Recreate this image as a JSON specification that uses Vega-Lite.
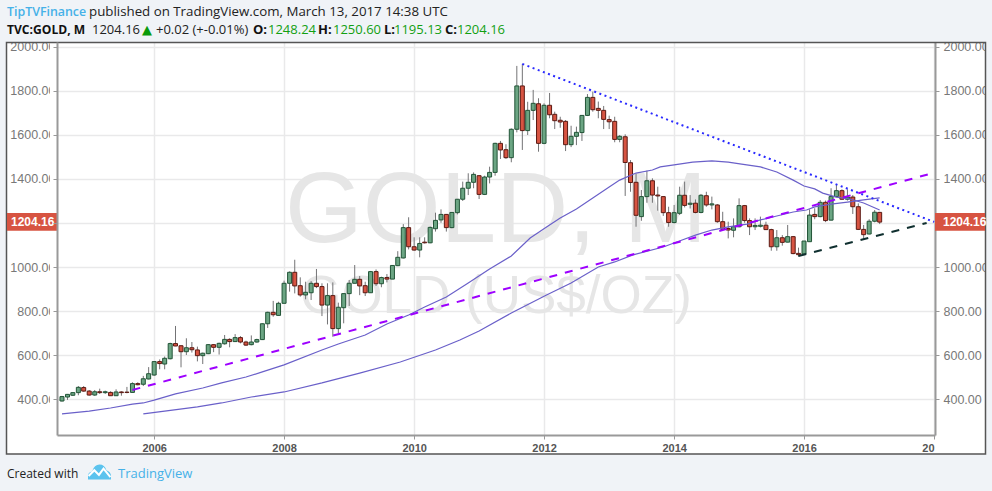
{
  "$schema": "https://vega.github.io/schema/vega-lite/v6.json",
  "width": 878,
  "height": 393,
  "autosize": {"type": "none"},
  "padding": {"left": 57, "top": 42, "right": 57, "bottom": 56},
  "background": "#ffffff",
  "config": {
    "view": {"stroke": null},
    "text": {"font": "Open Sans", "fontSize": 13, "align": "left", "baseline": "alphabetic"}
  },
  "datasets": {
    "candles": [
      {"d":"2004-08-01","o":391,"h":414,"l":388,"c":411},
      {"d":"2004-09-01","o":409,"h":423,"l":396,"c":421},
      {"d":"2004-10-01","o":417,"h":430,"l":414,"c":429},
      {"d":"2004-11-01","o":429,"h":459,"l":417,"c":453},
      {"d":"2004-12-01","o":452,"h":459,"l":433,"c":436},
      {"d":"2005-01-01","o":436,"h":441,"l":415,"c":418},
      {"d":"2005-02-01","o":418,"h":441,"l":414,"c":433},
      {"d":"2005-03-01","o":433,"h":447,"l":423,"c":429},
      {"d":"2005-04-01","o":429,"h":438,"l":423,"c":433},
      {"d":"2005-05-01","o":430,"h":435,"l":414,"c":415},
      {"d":"2005-06-01","o":415,"h":444,"l":414,"c":432},
      {"d":"2005-07-01","o":432,"h":435,"l":415,"c":429},
      {"d":"2005-08-01","o":431,"h":455,"l":426,"c":430},
      {"d":"2005-09-01","o":430,"h":476,"l":430,"c":470},
      {"d":"2005-10-01","o":470,"h":476,"l":462,"c":465},
      {"d":"2005-11-01","o":467,"h":505,"l":459,"c":492},
      {"d":"2005-12-01","o":491,"h":545,"l":489,"c":515},
      {"d":"2006-01-01","o":509,"h":570,"l":505,"c":570},
      {"d":"2006-02-01","o":570,"h":580,"l":535,"c":561},
      {"d":"2006-03-01","o":559,"h":593,"l":535,"c":585},
      {"d":"2006-04-01","o":583,"h":656,"l":580,"c":652},
      {"d":"2006-05-01","o":652,"h":732,"l":640,"c":641},
      {"d":"2006-06-01","o":642,"h":645,"l":544,"c":615},
      {"d":"2006-07-01","o":615,"h":676,"l":600,"c":633},
      {"d":"2006-08-01","o":633,"h":659,"l":611,"c":624},
      {"d":"2006-09-01","o":623,"h":638,"l":571,"c":597},
      {"d":"2006-10-01","o":597,"h":611,"l":559,"c":608},
      {"d":"2006-11-01","o":606,"h":650,"l":604,"c":647},
      {"d":"2006-12-01","o":647,"h":650,"l":613,"c":635},
      {"d":"2007-01-01","o":635,"h":656,"l":602,"c":653},
      {"d":"2007-02-01","o":651,"h":691,"l":647,"c":671},
      {"d":"2007-03-01","o":671,"h":676,"l":635,"c":661},
      {"d":"2007-04-01","o":661,"h":695,"l":659,"c":679},
      {"d":"2007-05-01","o":679,"h":686,"l":653,"c":659},
      {"d":"2007-06-01","o":659,"h":665,"l":641,"c":645},
      {"d":"2007-07-01","o":647,"h":689,"l":644,"c":659},
      {"d":"2007-08-01","o":659,"h":674,"l":656,"c":670},
      {"d":"2007-09-01","o":670,"h":744,"l":668,"c":742},
      {"d":"2007-10-01","o":742,"h":797,"l":723,"c":794},
      {"d":"2007-11-01","o":794,"h":846,"l":774,"c":783},
      {"d":"2007-12-01","o":780,"h":842,"l":779,"c":835},
      {"d":"2008-01-01","o":835,"h":938,"l":835,"c":926},
      {"d":"2008-02-01","o":926,"h":980,"l":888,"c":976},
      {"d":"2008-03-01","o":976,"h":1033,"l":880,"c":914},
      {"d":"2008-04-01","o":915,"h":953,"l":865,"c":873},
      {"d":"2008-05-01","o":873,"h":933,"l":853,"c":885},
      {"d":"2008-06-01","o":883,"h":936,"l":850,"c":926},
      {"d":"2008-07-01","o":926,"h":991,"l":904,"c":911},
      {"d":"2008-08-01","o":911,"h":926,"l":777,"c":827},
      {"d":"2008-09-01","o":827,"h":926,"l":739,"c":870},
      {"d":"2008-10-01","o":870,"h":930,"l":683,"c":720},
      {"d":"2008-11-01","o":720,"h":838,"l":698,"c":817},
      {"d":"2008-12-01","o":815,"h":880,"l":744,"c":879},
      {"d":"2009-01-01","o":879,"h":941,"l":823,"c":926},
      {"d":"2009-02-01","o":926,"h":1009,"l":926,"c":944},
      {"d":"2009-03-01","o":944,"h":959,"l":872,"c":914},
      {"d":"2009-04-01","o":915,"h":933,"l":868,"c":883},
      {"d":"2009-05-01","o":883,"h":982,"l":883,"c":979},
      {"d":"2009-06-01","o":979,"h":989,"l":914,"c":924},
      {"d":"2009-07-01","o":924,"h":956,"l":908,"c":952},
      {"d":"2009-08-01","o":952,"h":968,"l":930,"c":945},
      {"d":"2009-09-01","o":945,"h":1009,"l":945,"c":1007},
      {"d":"2009-10-01","o":1006,"h":1072,"l":1004,"c":1044},
      {"d":"2009-11-01","o":1041,"h":1195,"l":1039,"c":1179},
      {"d":"2009-12-01","o":1179,"h":1226,"l":1080,"c":1092},
      {"d":"2010-01-01","o":1092,"h":1135,"l":1074,"c":1077},
      {"d":"2010-02-01","o":1077,"h":1135,"l":1044,"c":1107},
      {"d":"2010-03-01","o":1113,"h":1135,"l":1107,"c":1110},
      {"d":"2010-04-01","o":1110,"h":1184,"l":1108,"c":1180},
      {"d":"2010-05-01","o":1174,"h":1247,"l":1161,"c":1212},
      {"d":"2010-06-01","o":1214,"h":1262,"l":1201,"c":1239},
      {"d":"2010-07-01","o":1239,"h":1241,"l":1161,"c":1179},
      {"d":"2010-08-01","o":1179,"h":1248,"l":1176,"c":1248},
      {"d":"2010-09-01","o":1247,"h":1309,"l":1239,"c":1308},
      {"d":"2010-10-01","o":1308,"h":1388,"l":1300,"c":1358},
      {"d":"2010-11-01","o":1358,"h":1426,"l":1327,"c":1385},
      {"d":"2010-12-01","o":1385,"h":1430,"l":1358,"c":1421},
      {"d":"2011-01-01","o":1415,"h":1418,"l":1309,"c":1330},
      {"d":"2011-02-01","o":1330,"h":1415,"l":1327,"c":1409},
      {"d":"2011-03-01","o":1409,"h":1456,"l":1380,"c":1430},
      {"d":"2011-04-01","o":1430,"h":1565,"l":1415,"c":1562},
      {"d":"2011-05-01","o":1562,"h":1573,"l":1491,"c":1532},
      {"d":"2011-06-01","o":1533,"h":1558,"l":1491,"c":1497},
      {"d":"2011-07-01","o":1497,"h":1630,"l":1476,"c":1626},
      {"d":"2011-08-01","o":1626,"h":1914,"l":1612,"c":1823},
      {"d":"2011-09-01","o":1823,"h":1923,"l":1532,"c":1620},
      {"d":"2011-10-01","o":1620,"h":1751,"l":1600,"c":1712},
      {"d":"2011-11-01","o":1712,"h":1805,"l":1668,"c":1744},
      {"d":"2011-12-01","o":1742,"h":1767,"l":1524,"c":1562},
      {"d":"2012-01-01","o":1562,"h":1744,"l":1558,"c":1735},
      {"d":"2012-02-01","o":1735,"h":1791,"l":1676,"c":1692},
      {"d":"2012-03-01","o":1694,"h":1706,"l":1627,"c":1665},
      {"d":"2012-04-01","o":1667,"h":1683,"l":1633,"c":1659},
      {"d":"2012-05-01","o":1662,"h":1668,"l":1527,"c":1556},
      {"d":"2012-06-01","o":1556,"h":1642,"l":1545,"c":1594},
      {"d":"2012-07-01","o":1594,"h":1638,"l":1554,"c":1612},
      {"d":"2012-08-01","o":1611,"h":1691,"l":1573,"c":1689},
      {"d":"2012-09-01","o":1689,"h":1786,"l":1686,"c":1771},
      {"d":"2012-10-01","o":1771,"h":1797,"l":1706,"c":1715},
      {"d":"2012-11-01","o":1721,"h":1752,"l":1676,"c":1712},
      {"d":"2012-12-01","o":1712,"h":1732,"l":1627,"c":1671},
      {"d":"2013-01-01","o":1670,"h":1688,"l":1627,"c":1660},
      {"d":"2013-02-01","o":1662,"h":1683,"l":1567,"c":1580},
      {"d":"2013-03-01","o":1580,"h":1600,"l":1567,"c":1594},
      {"d":"2013-04-01","o":1592,"h":1603,"l":1323,"c":1475},
      {"d":"2013-05-01","o":1474,"h":1486,"l":1342,"c":1384},
      {"d":"2013-06-01","o":1385,"h":1423,"l":1183,"c":1235},
      {"d":"2013-07-01","o":1229,"h":1350,"l":1210,"c":1320},
      {"d":"2013-08-01","o":1320,"h":1438,"l":1292,"c":1392},
      {"d":"2013-09-01","o":1392,"h":1403,"l":1292,"c":1327},
      {"d":"2013-10-01","o":1327,"h":1365,"l":1256,"c":1323},
      {"d":"2013-11-01","o":1320,"h":1320,"l":1232,"c":1247},
      {"d":"2013-12-01","o":1247,"h":1274,"l":1183,"c":1202},
      {"d":"2014-01-01","o":1202,"h":1282,"l":1198,"c":1247},
      {"d":"2014-02-01","o":1244,"h":1365,"l":1236,"c":1326},
      {"d":"2014-03-01","o":1326,"h":1388,"l":1271,"c":1280},
      {"d":"2014-04-01","o":1285,"h":1327,"l":1266,"c":1290},
      {"d":"2014-05-01","o":1290,"h":1307,"l":1244,"c":1248},
      {"d":"2014-06-01","o":1248,"h":1332,"l":1244,"c":1326},
      {"d":"2014-07-01","o":1324,"h":1342,"l":1274,"c":1282},
      {"d":"2014-08-01","o":1282,"h":1320,"l":1262,"c":1287},
      {"d":"2014-09-01","o":1282,"h":1286,"l":1201,"c":1206},
      {"d":"2014-10-01","o":1206,"h":1251,"l":1168,"c":1171},
      {"d":"2014-11-01","o":1175,"h":1206,"l":1130,"c":1168},
      {"d":"2014-12-01","o":1167,"h":1221,"l":1135,"c":1183},
      {"d":"2015-01-01","o":1183,"h":1312,"l":1180,"c":1279},
      {"d":"2015-02-01","o":1279,"h":1282,"l":1201,"c":1211},
      {"d":"2015-03-01","o":1211,"h":1221,"l":1145,"c":1183},
      {"d":"2015-04-01","o":1183,"h":1221,"l":1168,"c":1189},
      {"d":"2015-05-01","o":1185,"h":1229,"l":1180,"c":1190},
      {"d":"2015-06-01","o":1190,"h":1206,"l":1168,"c":1170},
      {"d":"2015-07-01","o":1170,"h":1174,"l":1074,"c":1092},
      {"d":"2015-08-01","o":1092,"h":1168,"l":1074,"c":1133},
      {"d":"2015-09-01","o":1133,"h":1145,"l":1097,"c":1112},
      {"d":"2015-10-01","o":1113,"h":1191,"l":1112,"c":1138},
      {"d":"2015-11-01","o":1138,"h":1141,"l":1058,"c":1061},
      {"d":"2015-12-01","o":1062,"h":1088,"l":1047,"c":1056},
      {"d":"2016-01-01","o":1059,"h":1118,"l":1054,"c":1118},
      {"d":"2016-02-01","o":1115,"h":1262,"l":1115,"c":1236},
      {"d":"2016-03-01","o":1239,"h":1267,"l":1217,"c":1229},
      {"d":"2016-04-01","o":1229,"h":1304,"l":1226,"c":1294},
      {"d":"2016-05-01","o":1294,"h":1302,"l":1204,"c":1211},
      {"d":"2016-06-01","o":1213,"h":1358,"l":1211,"c":1320},
      {"d":"2016-07-01","o":1320,"h":1373,"l":1317,"c":1347},
      {"d":"2016-08-01","o":1347,"h":1353,"l":1305,"c":1308},
      {"d":"2016-09-01","o":1308,"h":1353,"l":1302,"c":1318},
      {"d":"2016-10-01","o":1318,"h":1327,"l":1241,"c":1274},
      {"d":"2016-11-01","o":1274,"h":1289,"l":1168,"c":1171},
      {"d":"2016-12-01","o":1171,"h":1191,"l":1123,"c":1147},
      {"d":"2017-01-01","o":1150,"h":1217,"l":1148,"c":1208},
      {"d":"2017-02-01","o":1208,"h":1259,"l":1203,"c":1249},
      {"d":"2017-03-01","o":1248.24,"h":1250.6,"l":1195.13,"c":1204.16}
    ],
    "averages": [
      {"s":"fast","d":"2004-08-01","v":332},{"s":"fast","d":"2005-01-01","v":345},{"s":"fast","d":"2005-05-01","v":359},
      {"s":"fast","d":"2005-09-01","v":377},{"s":"fast","d":"2005-11-01","v":382},{"s":"fast","d":"2006-01-01","v":395},
      {"s":"fast","d":"2006-05-01","v":423},{"s":"fast","d":"2006-10-01","v":450},{"s":"fast","d":"2007-01-15","v":473},
      {"s":"fast","d":"2007-06-01","v":500},{"s":"fast","d":"2007-09-01","v":523},{"s":"fast","d":"2008-01-01","v":555},
      {"s":"fast","d":"2008-08-01","v":623},{"s":"fast","d":"2008-11-01","v":650},{"s":"fast","d":"2009-04-01","v":691},
      {"s":"fast","d":"2009-08-01","v":741},{"s":"fast","d":"2009-12-01","v":782},{"s":"fast","d":"2010-03-01","v":818},
      {"s":"fast","d":"2010-07-01","v":864},{"s":"fast","d":"2010-11-01","v":927},{"s":"fast","d":"2011-03-01","v":991},
      {"s":"fast","d":"2011-07-01","v":1050},{"s":"fast","d":"2011-10-15","v":1132},{"s":"fast","d":"2012-02-01","v":1191},
      {"s":"fast","d":"2012-04-01","v":1223},{"s":"fast","d":"2012-07-01","v":1264},{"s":"fast","d":"2012-10-01","v":1314},
      {"s":"fast","d":"2013-01-01","v":1364},{"s":"fast","d":"2013-03-01","v":1395},{"s":"fast","d":"2013-06-01","v":1427},
      {"s":"fast","d":"2013-09-01","v":1441},{"s":"fast","d":"2013-10-15","v":1455},{"s":"fast","d":"2014-01-01","v":1464},
      {"s":"fast","d":"2014-04-15","v":1477},{"s":"fast","d":"2014-08-01","v":1482},{"s":"fast","d":"2014-11-01","v":1477},
      {"s":"fast","d":"2015-01-15","v":1468},{"s":"fast","d":"2015-05-01","v":1455},{"s":"fast","d":"2015-08-01","v":1432},
      {"s":"fast","d":"2015-11-01","v":1395},{"s":"fast","d":"2016-01-01","v":1368},{"s":"fast","d":"2016-03-01","v":1355},
      {"s":"fast","d":"2016-04-15","v":1336},{"s":"fast","d":"2016-07-01","v":1318},{"s":"fast","d":"2016-09-15","v":1309},
      {"s":"fast","d":"2016-12-01","v":1291},{"s":"fast","d":"2017-03-01","v":1259},
      {"s":"slow","d":"2005-11-01","v":332},{"s":"slow","d":"2006-03-01","v":345},{"s":"slow","d":"2006-09-01","v":364},
      {"s":"slow","d":"2007-01-15","v":382},{"s":"slow","d":"2007-07-01","v":409},{"s":"slow","d":"2008-01-01","v":432},
      {"s":"slow","d":"2008-08-01","v":473},{"s":"slow","d":"2009-03-01","v":518},{"s":"slow","d":"2009-10-15","v":568},
      {"s":"slow","d":"2010-05-01","v":623},{"s":"slow","d":"2010-09-15","v":668},{"s":"slow","d":"2011-01-01","v":709},
      {"s":"slow","d":"2011-07-01","v":791},{"s":"slow","d":"2012-01-15","v":873},{"s":"slow","d":"2012-06-01","v":927},
      {"s":"slow","d":"2012-11-01","v":1000},{"s":"slow","d":"2013-02-01","v":1023},{"s":"slow","d":"2013-05-15","v":1055},
      {"s":"slow","d":"2013-11-01","v":1091},{"s":"slow","d":"2014-02-15","v":1123},{"s":"slow","d":"2014-05-01","v":1145},
      {"s":"slow","d":"2014-08-01","v":1168},{"s":"slow","d":"2014-11-01","v":1182},{"s":"slow","d":"2015-02-15","v":1195},
      {"s":"slow","d":"2015-05-01","v":1214},{"s":"slow","d":"2015-08-01","v":1232},{"s":"slow","d":"2015-11-01","v":1250},
      {"s":"slow","d":"2016-01-15","v":1259},{"s":"slow","d":"2016-03-01","v":1273},{"s":"slow","d":"2016-06-01","v":1286},
      {"s":"slow","d":"2016-09-01","v":1295},{"s":"slow","d":"2016-12-01","v":1305},{"s":"slow","d":"2017-03-01","v":1314}
    ],
    "trends": [
      {"t":"rising","d":"2005-09-01","v":441},{"t":"rising","d":"2017-12-26","v":1427},
      {"t":"falling","d":"2011-09-01","v":1923},{"t":"falling","d":"2018-01-01","v":1205},
      {"t":"support","d":"2015-12-01","v":1050},{"t":"support","d":"2017-11-20","v":1200}
    ],
    "last": [{"price": 1204.16, "label": "1204.16", "top": 1245, "bottom": 1165}]
  },
  "layer": [
    {
      "data": {"values": [{"label": "GOLD, M"}]},
      "mark": {"type": "text", "x": 439, "y": 200, "align": "center", "font": "Liberation Sans", "fontSize": 100, "color": "#e6e6e6"},
      "encoding": {"text": {"field": "label"}}
    },
    {
      "data": {"values": [{"label": "GOLD (US$/OZ)"}]},
      "mark": {"type": "text", "x": 439, "y": 271, "align": "center", "font": "Liberation Sans", "fontSize": 53, "color": "#e6e6e6"},
      "encoding": {"text": {"field": "label"}}
    },
    {
      "data": {"name": "candles"},
      "mark": {"type": "rule", "color": "#737375", "strokeWidth": 1},
      "encoding": {
        "x": {
          "field": "d",
          "type": "temporal",
          "scale": {"type": "utc", "domain": ["2004-07-04", "2018-01-06"], "padding": 0},
          "axis": {
            "title": null,
            "grid": true,
            "gridColor": "#e9e9ea",
            "gridWidth": 1.5,
            "tickCount": {"interval": "year", "step": 2},
            "format": "%Y",
            "labelExpr": "utcyear(datum.value) == 2018 ? '20' : datum.label",
            "labelAlign": {"condition": {"test": "utcyear(datum.value) == 2018", "value": "right"}, "value": "center"},
            "labelFont": "Liberation Sans",
            "labelFontSize": 11,
            "labelFontWeight": "bold",
            "labelColor": "#555555",
            "labelPadding": 3,
            "labelOverlap": false,
            "tickSize": 4,
            "tickColor": "#999999",
            "domainColor": "#999999",
            "domainWidth": 2
          }
        },
        "y": {
          "field": "l",
          "type": "quantitative",
          "scale": {"domain": [236.4, 2022.7], "nice": false, "zero": false},
          "axis": {
            "orient": "left",
            "title": null,
            "values": [400, 600, 800, 1000, 1200, 1400, 1600, 1800, 2000],
            "format": ".2f",
            "labelExpr": "datum.value == 1200 ? '' : datum.label",
            "grid": true,
            "gridColor": "#e9e9ea",
            "gridWidth": 1.5,
            "ticks": false,
            "domain": false,
            "labelPadding": 2,
            "labelFont": "Liberation Sans",
            "labelFontSize": 12.5,
            "labelColor": "#787878"
          }
        },
        "y2": {"field": "h"}
      }
    },
    {
      "data": {"name": "candles"},
      "mark": {"type": "bar", "size": 4, "strokeWidth": 1},
      "encoding": {
        "x": {"field": "d", "type": "temporal", "axis": null},
        "y": {"field": "o", "type": "quantitative", "axis": null},
        "y2": {"field": "c"},
        "fill": {"condition": {"test": "datum.c >= datum.o", "value": "#6ba583"}, "value": "#d75442"},
        "stroke": {"condition": {"test": "datum.c >= datum.o", "value": "#225437"}, "value": "#5b1a13"}
      }
    },
    {
      "data": {"name": "averages"},
      "mark": {"type": "line", "color": "#6a60c9", "strokeWidth": 1.2},
      "encoding": {
        "x": {"field": "d", "type": "temporal", "axis": null},
        "y": {
          "field": "v",
          "type": "quantitative",
          "axis": {
            "orient": "right",
            "title": null,
            "values": [400, 600, 800, 1000, 1200, 1400, 1600, 1800, 2000],
            "format": ".2f",
            "labelExpr": "datum.value == 1200 ? '' : datum.label",
            "grid": false,
            "tickSize": 4,
            "tickColor": "#999999",
            "domainColor": "#999999",
            "domainWidth": 2,
            "labelPadding": 4,
            "labelFont": "Liberation Sans",
            "labelFontSize": 12.5,
            "labelColor": "#787878"
          }
        },
        "detail": {"field": "s"}
      }
    },
    {
      "data": {"name": "trends"},
      "transform": [{"filter": "datum.t == 'rising'"}],
      "mark": {"type": "line", "color": "#9d00ff", "strokeWidth": 2, "strokeDash": [8, 8]},
      "encoding": {
        "x": {"field": "d", "type": "temporal", "axis": null},
        "y": {"field": "v", "type": "quantitative", "axis": null}
      }
    },
    {
      "data": {"name": "trends"},
      "transform": [{"filter": "datum.t == 'falling'"}],
      "mark": {"type": "line", "color": "#2a2aff", "strokeWidth": 2, "strokeDash": [2, 3.5]},
      "encoding": {
        "x": {"field": "d", "type": "temporal", "axis": null},
        "y": {"field": "v", "type": "quantitative", "axis": null}
      }
    },
    {
      "data": {"name": "trends"},
      "transform": [{"filter": "datum.t == 'support'"}],
      "mark": {"type": "line", "color": "#0f2f2f", "strokeWidth": 2, "strokeDash": [8, 8]},
      "encoding": {
        "x": {"field": "d", "type": "temporal", "axis": null},
        "y": {"field": "v", "type": "quantitative", "axis": null}
      }
    },
    {
      "data": {"values": [{"part": "top"}]},
      "mark": {"type": "rect", "color": "#f0f3f7"},
      "encoding": {"x": {"value": -57}, "x2": {"value": 935}, "y": {"value": -42}, "y2": {"value": 0}}
    },
    {
      "data": {"values": [{"part": "bottom"}]},
      "mark": {"type": "rect", "color": "#f0f3f7"},
      "encoding": {"x": {"value": -57}, "x2": {"value": 935}, "y": {"value": 412}, "y2": {"value": 449}}
    },
    {
      "data": {"values": [{"part": "left"}]},
      "mark": {"type": "rect", "color": "#f0f3f7"},
      "encoding": {"x": {"value": -57}, "x2": {"value": -50.5}, "y": {"value": -42}, "y2": {"value": 449}}
    },
    {
      "data": {"values": [{"part": "right"}]},
      "mark": {"type": "rect", "color": "#f0f3f7"},
      "encoding": {"x": {"value": 928.5}, "x2": {"value": 935}, "y": {"value": -42}, "y2": {"value": 449}}
    },
    {
      "data": {"values": [{"part": "label clip"}]},
      "mark": {"type": "rect", "color": "#ffffff"},
      "encoding": {"x": {"value": -7}, "x2": {"value": -1}, "y": {"value": 0}, "y2": {"value": 393}}
    },
    {
      "data": {"values": [{"part": "frame"}]},
      "mark": {"type": "rect", "fillOpacity": 0, "stroke": "#555555", "strokeWidth": 1.5},
      "encoding": {"x": {"value": -50.5}, "x2": {"value": 928.5}, "y": {"value": 0.5}, "y2": {"value": 412}}
    },
    {
      "data": {"name": "last"},
      "mark": {"type": "rect", "color": "#d75442"},
      "encoding": {
        "x": {"value": -50},
        "x2": {"value": 0},
        "y": {"field": "top", "type": "quantitative", "axis": null},
        "y2": {"field": "bottom"}
      }
    },
    {
      "data": {"name": "last"},
      "mark": {"type": "rect", "color": "#d75442"},
      "encoding": {
        "x": {"value": 878},
        "x2": {"value": 928},
        "y": {"field": "top", "type": "quantitative", "axis": null},
        "y2": {"field": "bottom"}
      }
    },
    {
      "data": {"name": "last"},
      "mark": {"type": "text", "x": -46, "baseline": "middle", "font": "Liberation Sans", "fontSize": 12, "fontWeight": "bold", "color": "#ffffff"},
      "encoding": {
        "y": {"field": "price", "type": "quantitative", "axis": null},
        "text": {"field": "label"}
      }
    },
    {
      "data": {"name": "last"},
      "mark": {"type": "text", "x": 886, "baseline": "middle", "font": "Liberation Sans", "fontSize": 12, "fontWeight": "bold", "color": "#ffffff"},
      "encoding": {
        "y": {"field": "price", "type": "quantitative", "axis": null},
        "text": {"field": "label"}
      }
    },
    {
      "data": {"values": [{"part": "left axis line"}]},
      "mark": {"type": "point", "opacity": 0, "x": 0, "y": 0},
      "encoding": {
        "y": {
          "datum": 1000,
          "type": "quantitative",
          "axis": {
            "orient": "left",
            "zindex": 1,
            "title": null,
            "values": [400, 600, 800, 1000, 1200, 1400, 1600, 1800, 2000],
            "labels": false,
            "grid": false,
            "tickSize": 4,
            "tickColor": "#999999",
            "domainColor": "#999999",
            "domainWidth": 2
          }
        }
      }
    },
    {"data": {"values": [{"label": "TipTVFinance"}]}, "mark": {"type": "text", "x": -50, "y": -26, "color": "#45b1e8", "fontWeight": 600, "fontSize": 12.4}, "encoding": {"text": {"field": "label"}}},
    {"data": {"values": [{"label": "published on TradingView.com, March 13, 2017 14:38 UTC"}]}, "mark": {"type": "text", "x": 32, "y": -26, "color": "#222222", "fontSize": 13.3}, "encoding": {"text": {"field": "label"}}},
    {"data": {"values": [{"label": "TVC:GOLD, M"}]}, "mark": {"type": "text", "x": -50, "y": -8, "color": "#111111", "fontWeight": "bold", "fontSize": 12.1}, "encoding": {"text": {"field": "label"}}},
    {"data": {"values": [{"label": "1204.16"}]}, "mark": {"type": "text", "x": 35, "y": -8, "color": "#222222"}, "encoding": {"text": {"field": "label"}}},
    {"data": {"values": [{"label": "▲"}]}, "mark": {"type": "text", "x": 85, "y": -8, "color": "#0a9a0a", "font": "DejaVu Sans", "fontSize": 13}, "encoding": {"text": {"field": "label"}}},
    {"data": {"values": [{"label": "+0.02 (+-0.01%)"}]}, "mark": {"type": "text", "x": 99, "y": -8, "color": "#222222"}, "encoding": {"text": {"field": "label"}}},
    {"data": {"values": [{"label": "O:"}]}, "mark": {"type": "text", "x": 196, "y": -8, "color": "#111111", "fontWeight": "bold"}, "encoding": {"text": {"field": "label"}}},
    {"data": {"values": [{"label": "1248.24"}]}, "mark": {"type": "text", "x": 211, "y": -8, "color": "#12a012"}, "encoding": {"text": {"field": "label"}}},
    {"data": {"values": [{"label": "H:"}]}, "mark": {"type": "text", "x": 261, "y": -8, "color": "#111111", "fontWeight": "bold"}, "encoding": {"text": {"field": "label"}}},
    {"data": {"values": [{"label": "1250.60"}]}, "mark": {"type": "text", "x": 276, "y": -8, "color": "#12a012"}, "encoding": {"text": {"field": "label"}}},
    {"data": {"values": [{"label": "L:"}]}, "mark": {"type": "text", "x": 327, "y": -8, "color": "#111111", "fontWeight": "bold"}, "encoding": {"text": {"field": "label"}}},
    {"data": {"values": [{"label": "1195.13"}]}, "mark": {"type": "text", "x": 337, "y": -8, "color": "#12a012"}, "encoding": {"text": {"field": "label"}}},
    {"data": {"values": [{"label": "C:"}]}, "mark": {"type": "text", "x": 388, "y": -8, "color": "#111111", "fontWeight": "bold"}, "encoding": {"text": {"field": "label"}}},
    {"data": {"values": [{"label": "1204.16"}]}, "mark": {"type": "text", "x": 400, "y": -8, "color": "#12a012"}, "encoding": {"text": {"field": "label"}}},
    {"data": {"values": [{"label": "Created with"}]}, "mark": {"type": "text", "x": -50, "y": 436, "color": "#222222", "fontSize": 12}, "encoding": {"text": {"field": "label"}}},
    {"data": {"values": [{"label": "TradingView"}]}, "mark": {"type": "text", "x": 61, "y": 436, "color": "#45b1e8"}, "encoding": {"text": {"field": "label"}}},
    {
      "data": {"values": [{"part": "logo"}]},
      "mark": {"type": "point", "x": 42.5, "y": 430, "size": 529, "filled": true, "opacity": 1, "color": "#5bc3ee", "strokeWidth": 0, "shape": "M-1,0.65 L-1,0.25 Q-0.95,0 -0.65,-0.05 Q-0.45,-0.65 0,-0.65 Q0.45,-0.65 0.6,-0.15 Q1,0 1,0.35 L1,0.65 Z"},
      "encoding": {}
    },
    {
      "data": {"values": [{"part": "logo mark"}]},
      "mark": {"type": "point", "x": 42.5, "y": 430, "size": 529, "filled": false, "opacity": 1, "color": "#ffffff", "strokeWidth": 2, "shape": "M-0.95,0.35 L-0.45,-0.15 L-0.05,0.25 L0.35,-0.3 L0.95,0.45"},
      "encoding": {}
    }
  ],
  "resolve": {"axis": {"x": "independent", "y": "independent"}}
}
